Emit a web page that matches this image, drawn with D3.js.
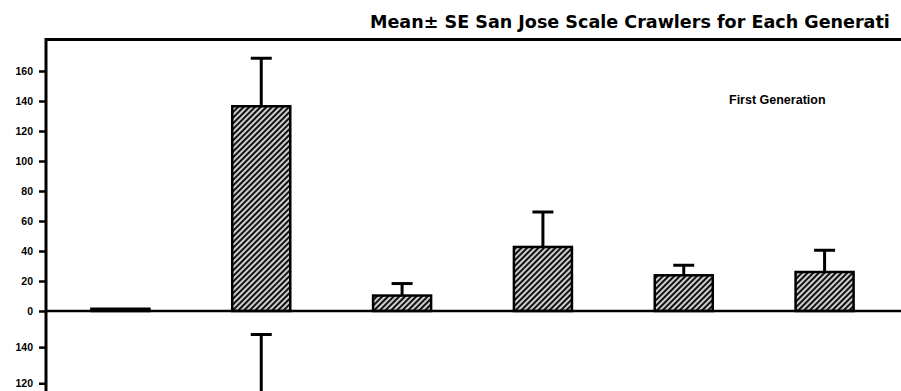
<!DOCTYPE html>
<html>
<head>
<meta charset="utf-8">
<script src="https://cdn.jsdelivr.net/npm/d3@7"></script>
<style>
  html, body { margin: 0; padding: 0; background: #fff; }
  svg { display: block; }
  text { font-family: "Liberation Sans", Arial, sans-serif; font-weight: bold; fill: #000; }
</style>
</head>
<body>
<script>
// Treatments along the x axis (six sampling groups)
const treatments = ["A", "B", "C", "D", "E", "F"];

// First generation: mean crawlers and standard error
const firstGenMean = [1.5, 136.5, 10.3, 42.7, 23.8, 26];
const firstGenSE   = [0, 32, 8, 23.3, 6.7, 14.5];

// Second generation: mean crawlers and standard error
const secondGenMean = [1, 100, 15, 45, 25, 30];
const secondGenSE   = [0.5, 47, 10, 30, 10, 20];

// Axis tick values for each panel
const firstTicks  = [0, 20, 40, 60, 80, 100, 120, 140, 160];
const secondTicks = [120, 140];

const titleText = "Mean\u00B1 SE San Jose Scale Crawlers for Each Generati";
const panelLabel = "First Generation";

const W = 901, H = 391;
const axisX = 46;

const svg = d3.select("body").append("svg").attr("width", W).attr("height", H);
const defs = svg.append("defs");

// Diagonal hatch fill for bars
const pat = defs.append("pattern")
  .attr("id", "hatch")
  .attr("patternUnits", "userSpaceOnUse")
  .attr("width", 4).attr("height", 4)
  .attr("patternTransform", "rotate(45)");
pat.append("rect").attr("width", 4).attr("height", 4).attr("fill", "#111");
pat.append("line").attr("x1", 2).attr("y1", 0).attr("x2", 2).attr("y2", 4)
  .attr("stroke", "#fff").attr("stroke-width", 1.6);

defs.append("clipPath").attr("id", "lowerClip")
  .append("rect").attr("x", 0).attr("y", 312).attr("width", W).attr("height", H - 312);

const x = d3.scaleBand().domain(treatments).range([50, 895])
  .paddingInner(0.588).paddingOuter(0.294);

const yTop = d3.scaleLinear().domain([0, 160]).range([311, 71]);
const yBottom = d3.scaleLinear().domain([0, 160]).range([600, 311]);

// Title: heavy sans, sized to run from x=370 to the right edge
const title = svg.append("text")
  .attr("x", 370).attr("y", 28)
  .style("font-family", "'DejaVu Sans', sans-serif")
  .attr("font-size", 16)
  .text(titleText);
const natural = title.node().getComputedTextLength();
title.attr("font-size", 16 * 520 / natural);

// Frame: top rule
svg.append("line").attr("x1", axisX - 1).attr("x2", W).attr("y1", 39.5).attr("y2", 39.5)
  .attr("stroke", "#000").attr("stroke-width", 3);

function drawAxis(g, y, ticks) {
  const axis = d3.axisLeft(y).tickValues(ticks).tickSize(7).tickPadding(6).tickFormat(d3.format("d"));
  const ga = g.append("g").attr("transform", `translate(${axisX},0)`).call(axis);
  ga.select(".domain").remove();
  ga.selectAll(".tick line").attr("stroke", "#000").attr("stroke-width", 2.5);
  ga.selectAll(".tick text").attr("font-size", 10.5)
    .attr("font-family", "'Liberation Sans', Arial, sans-serif")
    .attr("font-weight", "bold").attr("fill", "#000");
}

function drawBars(g, y, means, ses) {
  const data = treatments.map((t, i) => ({ t, m: means[i], se: ses[i] }));

  g.selectAll("rect.bar").data(data).join("rect")
    .attr("class", "bar")
    .attr("x", d => x(d.t))
    .attr("width", x.bandwidth())
    .attr("y", d => y(d.m))
    .attr("height", d => y(0) - y(d.m))
    .attr("fill", "url(#hatch)")
    .attr("stroke", "#000").attr("stroke-width", 2.5);

  const eb = data.filter(d => d.se > 0);
  g.selectAll("line.stem").data(eb).join("line")
    .attr("class", "stem")
    .attr("x1", d => x(d.t) + x.bandwidth() / 2)
    .attr("x2", d => x(d.t) + x.bandwidth() / 2)
    .attr("y1", d => y(d.m))
    .attr("y2", d => y(d.m + d.se))
    .attr("stroke", "#000").attr("stroke-width", 3);
  g.selectAll("line.cap").data(eb).join("line")
    .attr("class", "cap")
    .attr("x1", d => x(d.t) + x.bandwidth() / 2 - 10.5)
    .attr("x2", d => x(d.t) + x.bandwidth() / 2 + 10.5)
    .attr("y1", d => y(d.m + d.se))
    .attr("y2", d => y(d.m + d.se))
    .attr("stroke", "#000").attr("stroke-width", 3);
}

// Second-generation panel (continues below the first)
const lower = svg.append("g");
drawAxis(lower, yBottom, secondTicks);
drawBars(lower.append("g").attr("clip-path", "url(#lowerClip)"), yBottom, secondGenMean, secondGenSE);

// First-generation panel
const upper = svg.append("g");
drawAxis(upper, yTop, firstTicks);
drawBars(upper, yTop, firstGenMean, firstGenSE);

// Baseline shared between panels
svg.append("line").attr("x1", axisX).attr("x2", W).attr("y1", yTop(0)).attr("y2", yTop(0))
  .attr("stroke", "#000").attr("stroke-width", 2.5);

// Left axis
svg.append("line").attr("x1", axisX).attr("x2", axisX).attr("y1", 38).attr("y2", H)
  .attr("stroke", "#000").attr("stroke-width", 3);

// Panel label
svg.append("text").attr("x", 729).attr("y", 104).attr("font-size", 12.5).text(panelLabel);
</script>
</body>
</html>
